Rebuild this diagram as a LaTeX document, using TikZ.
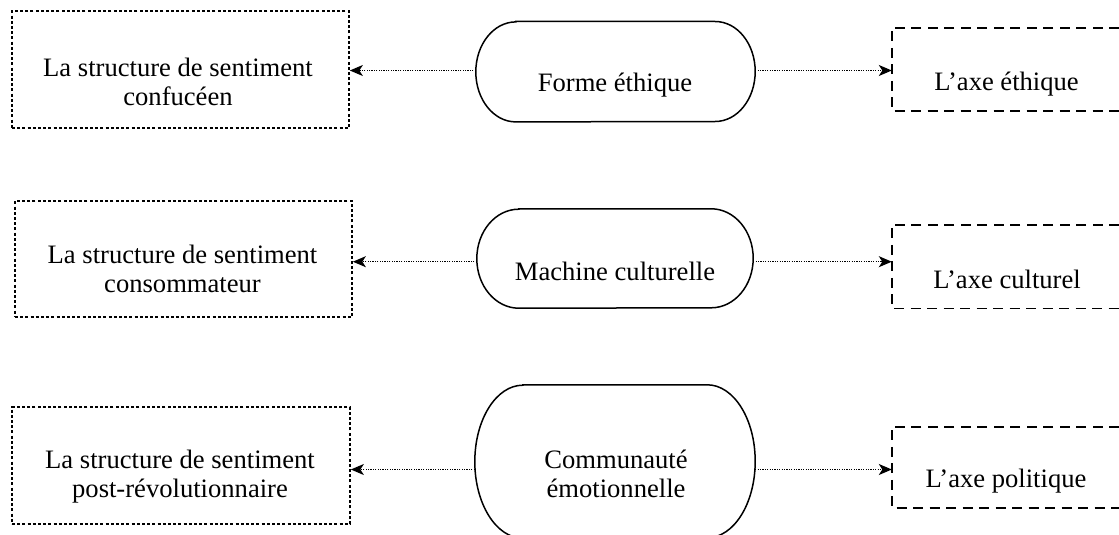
\documentclass[tikz,border=0pt]{standalone}
\usepackage{fontspec}
\setmainfont{Liberation Serif}
\usetikzlibrary{arrows.meta}
\begin{document}
\begin{tikzpicture}[x=1pt,y=-1pt,
  txt/.style={inner sep=0pt,font=\fontsize{26.6}{29}\selectfont,align=center},
  frame/.style={rectangle,inner sep=0pt,draw=none},
  dotbox/.style={draw=black,line width=1.7pt,dash pattern=on 3pt off 2.2pt},
  dashbox/.style={draw=black,line width=1.7pt,dash pattern=on 10pt off 6.5pt},
  stad/.style={draw=black,line width=1.5pt},
  link/.style={draw=black,line width=1.3pt,dash pattern=on 1.2pt off 1.2pt,
    -{Stealth[length=13pt,width=11pt,inset=3.5pt]}}]
\useasboundingbox (0,0) rectangle (1119,535);
% left boxes
\node[frame,dotbox,minimum width=337pt,minimum height=117pt] (L1) at (180.5,69.5) {};
\node[frame,dotbox,minimum width=337pt,minimum height=116pt] (L2) at (183.5,259) {};
\node[frame,dotbox,minimum width=338pt,minimum height=117pt] (L3) at (181,465.5) {};
\node[txt,anchor=north] (tL1) at (178,57.8) {La structure de sentiment\\confucéen};
\node[txt,anchor=north] (tL2) at (182.5,244.5) {La structure de sentiment\\consommateur};
\node[txt,anchor=north] (tL3) at (180,449.8) {La structure de sentiment\\post-révolutionnaire};
% stadiums
\node[frame,minimum width=279pt,minimum height=100pt] (S1) at (615.5,71.7) {};
\node[frame,minimum width=276pt,minimum height=99pt] (S2) at (615,258.5) {};
\node[frame,minimum width=280pt,minimum height=153pt] (S3) at (615,461.5) {};
\draw[stad] ([xshift=40pt]S1.north west) -- ([xshift=-40pt]S1.north east)
  arc[start angle=90,end angle=-90,x radius=40pt,y radius=50pt]
  -- ([xshift=40pt]S1.south west)
  arc[start angle=270,end angle=90,x radius=40pt,y radius=50pt] -- cycle;
\draw[stad] ([xshift=42pt]S2.north west) -- ([xshift=-42pt]S2.north east)
  arc[start angle=90,end angle=-90,x radius=42pt,y radius=49.5pt]
  -- ([xshift=42pt]S2.south west)
  arc[start angle=270,end angle=90,x radius=42pt,y radius=49.5pt] -- cycle;
\draw[stad] ([xshift=48pt]S3.north west) -- ([xshift=-48pt]S3.north east)
  arc[start angle=90,end angle=-90,x radius=48pt,y radius=76.5pt]
  -- ([xshift=48pt]S3.south west)
  arc[start angle=270,end angle=90,x radius=48pt,y radius=76.5pt] -- cycle;
\node[txt,anchor=base] (tS1) at (615,91.7) {Forme éthique};
\node[txt,anchor=base] (tS2) at (615,280) {Machine culturelle};
\node[txt,anchor=north] (tS3) at (616,450) {Communauté\\émotionnelle};
% right boxes (open on the right)
\node[frame,minimum width=227pt,minimum height=83pt] (R1) at (1005.5,69.5) {};
\node[frame,minimum width=227pt,minimum height=83.3pt] (R2) at (1005.5,266.7) {};
\node[frame,minimum width=227pt,minimum height=81pt] (R3) at (1005.5,467.5) {};
\foreach \r in {R1,R2,R3}{
  \draw[dashbox] (\r.north east) -- (\r.north west) -- (\r.south west) -- (\r.south east);
}
\node[txt,anchor=base] (tR1) at (1006.5,90) {L’axe éthique};
\node[txt,anchor=base] (tR2) at (1007,288) {L’axe culturel};
\node[txt,anchor=base] (tR3) at (1006,487) {L’axe politique};
% arrow levels
\coordinate (y1) at (0,70.5);
\coordinate (y2) at (0,261.7);
\coordinate (y3) at (0,469.5);
\draw[link] (S1.west |- y1) -- (L1.east |- y1);
\draw[link] (S1.east |- y1) -- (R1.west |- y1);
\draw[link] (S2.west |- y2) -- (L2.east |- y2);
\draw[link] (S2.east |- y2) -- (R2.west |- y2);
\draw[link] (S3.west |- y3) -- (L3.east |- y3);
\draw[link] (S3.east |- y3) -- (R3.west |- y3);
\end{tikzpicture}
\end{document}
